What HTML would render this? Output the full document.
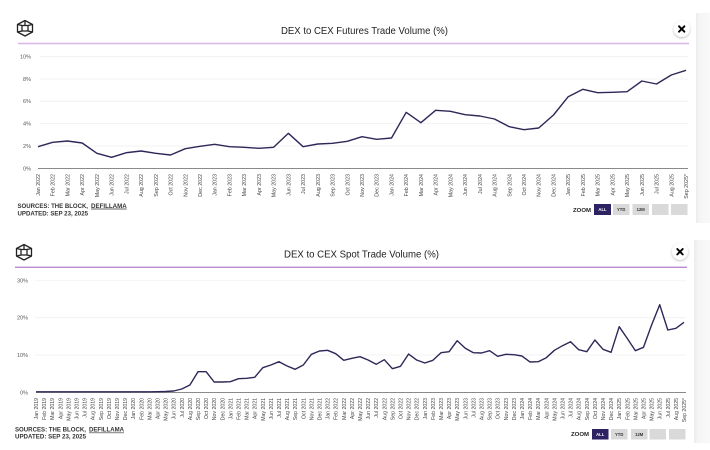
<!DOCTYPE html>
<html><head><meta charset="utf-8"><style>
html,body{margin:0;padding:0;background:#fff;}
svg{display:block;font-family:"Liberation Sans",Arial,sans-serif;}
</style></head><body>
<svg width="710" height="450" viewBox="0 0 710 450" xmlns="http://www.w3.org/2000/svg">
<defs>
<filter id="sh" x="-50%" y="-50%" width="200%" height="200%"><feDropShadow dx="0" dy="1" stdDeviation="1.3" flood-color="#000" flood-opacity="0.28"/></filter>
<linearGradient id="band" x1="0" x2="1" y1="0" y2="0"><stop offset="0" stop-color="#ececec"/><stop offset="0.25" stop-color="#f5f5f5"/><stop offset="1" stop-color="#f9f9f9"/></linearGradient>
</defs>
<rect width="710" height="450" fill="#fff"/>
<!-- right bands -->
<rect x="696" y="13" width="14" height="210" fill="url(#band)"/>
<rect x="694" y="240" width="16" height="203" fill="url(#band)"/>

<!-- ================= TOP CHART ================= -->
<g fill="none" stroke="#222" stroke-width="1.3" stroke-linejoin="round">
<polygon points="25,20.5 32.5,24.5 32.5,32 25,36 17.5,32 17.5,24.5"/>
<rect x="22" y="25.5" width="6" height="5.5"/>
<line x1="17.5" y1="24.5" x2="22" y2="25.5"/><line x1="32.5" y1="24.5" x2="28" y2="25.5"/>
<line x1="17.5" y1="32" x2="22" y2="31"/><line x1="32.5" y1="32" x2="28" y2="31"/>
<line x1="25" y1="20.5" x2="25" y2="25.5"/>
</g>
<text x="281" y="34" font-size="10.5" fill="#222" textLength="167" lengthAdjust="spacingAndGlyphs">DEX to CEX Futures Trade Volume (%)</text>
<line x1="18" y1="43.5" x2="689" y2="43.5" stroke="#d9b6e8" stroke-width="1.4"/>
<circle cx="681.7" cy="29" r="8" fill="#fff" filter="url(#sh)"/>
<g stroke="#000" stroke-width="1.9" stroke-linecap="round"><line x1="679" y1="26.3" x2="684.4" y2="31.7"/><line x1="684.4" y1="26.3" x2="679" y2="31.7"/></g>

<g stroke="#efefef" stroke-width="0.8">
<line x1="40" y1="56.7" x2="688" y2="56.7"/>
<line x1="40" y1="79" x2="688" y2="79"/>
<line x1="40" y1="101.3" x2="688" y2="101.3"/>
<line x1="40" y1="123.6" x2="688" y2="123.6"/>
<line x1="40" y1="146" x2="688" y2="146"/>
</g>
<line x1="38" y1="168.5" x2="688" y2="168.5" stroke="#8a8a8a" stroke-width="1"/>
<g font-size="5.5" fill="#555" text-anchor="end">
<text x="31" y="58.6">10%</text><text x="31" y="80.9">8%</text><text x="31" y="103.2">6%</text>
<text x="31" y="125.5">4%</text><text x="31" y="147.9">2%</text><text x="31" y="170.3">0%</text>
</g>
<polyline fill="none" stroke="#2d2858" stroke-width="1.4" stroke-linejoin="round" points="38,146.7 52.7,142.3 67.5,141 82.2,143 96.9,153.3 111.6,157.3 126.4,152.7 141.1,151 155.8,153.3 170.5,155 185.3,148.7 200,146.3 214.7,144.3 229.5,146.7 244.2,147.3 258.9,148.3 273.6,147.3 288.4,133.3 303.1,146.7 317.8,144 332.5,143.3 347.3,141.3 362,136.7 376.7,139.3 391.5,138 406.2,112.3 420.9,122.7 435.6,110.3 450.4,111.3 465.1,114.7 479.8,116 494.5,119 509.3,126.7 524,129.7 538.7,128 553.5,115 568.2,96.7 582.9,89.3 597.6,92.7 612.4,92.3 627.1,91.7 641.8,81 656.5,84 671.3,75 686,70.3"/>
<g font-size="5.3" fill="#444" text-anchor="end">
<text transform="translate(40,174) rotate(-90)">Jan 2022</text>
<text transform="translate(54.7,174) rotate(-90)">Feb 2022</text>
<text transform="translate(69.5,174) rotate(-90)">Mar 2022</text>
<text transform="translate(84.2,174) rotate(-90)">Apr 2022</text>
<text transform="translate(98.9,174) rotate(-90)">May 2022</text>
<text transform="translate(113.6,174) rotate(-90)">Jun 2022</text>
<text transform="translate(128.4,174) rotate(-90)">Jul 2022</text>
<text transform="translate(143.1,174) rotate(-90)">Aug 2022</text>
<text transform="translate(157.8,174) rotate(-90)">Sep 2022</text>
<text transform="translate(172.5,174) rotate(-90)">Oct 2022</text>
<text transform="translate(187.3,174) rotate(-90)">Nov 2022</text>
<text transform="translate(202,174) rotate(-90)">Dec 2022</text>
<text transform="translate(216.7,174) rotate(-90)">Jan 2023</text>
<text transform="translate(231.5,174) rotate(-90)">Feb 2023</text>
<text transform="translate(246.2,174) rotate(-90)">Mar 2023</text>
<text transform="translate(260.9,174) rotate(-90)">Apr 2023</text>
<text transform="translate(275.6,174) rotate(-90)">May 2023</text>
<text transform="translate(290.4,174) rotate(-90)">Jun 2023</text>
<text transform="translate(305.1,174) rotate(-90)">Jul 2023</text>
<text transform="translate(319.8,174) rotate(-90)">Aug 2023</text>
<text transform="translate(334.5,174) rotate(-90)">Sep 2023</text>
<text transform="translate(349.3,174) rotate(-90)">Oct 2023</text>
<text transform="translate(364,174) rotate(-90)">Nov 2023</text>
<text transform="translate(378.7,174) rotate(-90)">Dec 2023</text>
<text transform="translate(393.5,174) rotate(-90)">Jan 2024</text>
<text transform="translate(408.2,174) rotate(-90)">Feb 2024</text>
<text transform="translate(422.9,174) rotate(-90)">Mar 2024</text>
<text transform="translate(437.6,174) rotate(-90)">Apr 2024</text>
<text transform="translate(452.4,174) rotate(-90)">May 2024</text>
<text transform="translate(467.1,174) rotate(-90)">Jun 2024</text>
<text transform="translate(481.8,174) rotate(-90)">Jul 2024</text>
<text transform="translate(496.5,174) rotate(-90)">Aug 2024</text>
<text transform="translate(511.3,174) rotate(-90)">Sep 2024</text>
<text transform="translate(526,174) rotate(-90)">Oct 2024</text>
<text transform="translate(540.7,174) rotate(-90)">Nov 2024</text>
<text transform="translate(555.5,174) rotate(-90)">Dec 2024</text>
<text transform="translate(570.2,174) rotate(-90)">Jan 2025</text>
<text transform="translate(584.9,174) rotate(-90)">Feb 2025</text>
<text transform="translate(599.6,174) rotate(-90)">Mar 2025</text>
<text transform="translate(614.4,174) rotate(-90)">Apr 2025</text>
<text transform="translate(629.1,174) rotate(-90)">May 2025</text>
<text transform="translate(643.8,174) rotate(-90)">Jun 2025</text>
<text transform="translate(658.5,174) rotate(-90)">Jul 2025</text>
<text transform="translate(673.3,174) rotate(-90)">Aug 2025</text>
<text transform="translate(688,174) rotate(-90)">Sep 2025*</text>
</g>
<g font-size="6.8" font-weight="bold" fill="#333">
<text x="17.5" y="207.8" textLength="70.5" lengthAdjust="spacingAndGlyphs">SOURCES: THE BLOCK,</text>
<text x="91" y="207.8" textLength="35.7" lengthAdjust="spacingAndGlyphs">DEFILLAMA</text>
<text x="17.5" y="215.3" textLength="70.5" lengthAdjust="spacingAndGlyphs">UPDATED: SEP 23, 2025</text>
</g>
<line x1="91" y1="209" x2="126.7" y2="209" stroke="#333" stroke-width="0.7"/>
<text x="573" y="212" font-size="5.8" font-weight="bold" fill="#222" textLength="18" lengthAdjust="spacingAndGlyphs">ZOOM</text>
<rect x="594" y="204" width="17" height="11" fill="#2d2262"/>
<rect x="613" y="204" width="16.5" height="11" fill="#d9d9d9"/>
<rect x="632.5" y="204" width="16.5" height="11" fill="#d9d9d9"/>
<rect x="652" y="204" width="16.5" height="11" fill="#d9d9d9"/>
<rect x="671" y="204" width="16.5" height="11" fill="#d9d9d9"/>
<g font-size="4.2" font-weight="bold" text-anchor="middle">
<text x="602.5" y="211" fill="#fff">ALL</text>
<text x="621.2" y="211" fill="#333">YTD</text>
<text x="640.7" y="211" fill="#333">12M</text>
</g>

<!-- ================= BOTTOM CHART ================= -->
<g fill="none" stroke="#222" stroke-width="1.3" stroke-linejoin="round">
<polygon points="24,244.5 31.5,248.5 31.5,256 24,260 16.5,256 16.5,248.5"/>
<rect x="21" y="249.5" width="6" height="5.5"/>
<line x1="16.5" y1="248.5" x2="21" y2="249.5"/><line x1="31.5" y1="248.5" x2="27" y2="249.5"/>
<line x1="16.5" y1="256" x2="21" y2="255"/><line x1="31.5" y1="256" x2="27" y2="255"/>
<line x1="24" y1="244.5" x2="24" y2="249.5"/>
</g>
<text x="284" y="257.5" font-size="10.5" fill="#222" textLength="155" lengthAdjust="spacingAndGlyphs">DEX to CEX Spot Trade Volume (%)</text>
<line x1="15" y1="267.3" x2="687" y2="267.3" stroke="#b98ad2" stroke-width="1.4"/>
<circle cx="680" cy="251.7" r="8" fill="#fff" filter="url(#sh)"/>
<g stroke="#000" stroke-width="1.9" stroke-linecap="round"><line x1="677.3" y1="249" x2="682.7" y2="254.4"/><line x1="682.7" y1="249" x2="677.3" y2="254.4"/></g>

<g stroke="#efefef" stroke-width="0.8">
<line x1="35" y1="280.7" x2="686" y2="280.7" stroke="#f4f4f4"/>
<line x1="35" y1="317.7" x2="686" y2="317.7"/>
<line x1="35" y1="355" x2="686" y2="355"/>
</g>
<line x1="36" y1="392.5" x2="686" y2="392.5" stroke="#8a8a8a" stroke-width="1"/>
<g font-size="5.5" fill="#555" text-anchor="end">
<text x="28" y="282.6">30%</text><text x="28" y="319.6">20%</text><text x="28" y="356.9">10%</text><text x="28" y="394.3">0%</text>
</g>
<polyline fill="none" stroke="#2d2858" stroke-width="1.4" stroke-linejoin="round" points="36,391.8 44.1,391.8 52.2,391.8 60.3,391.8 68.4,391.8 76.5,391.8 84.6,391.8 92.7,391.8 100.8,391.8 108.9,391.8 117,391.8 125.1,391.8 133.2,391.8 141.3,391.8 149.4,391.8 157.5,391.7 165.6,391.5 173.7,391 181.8,389 189.9,385 198,371.7 206.1,371.7 214.2,382 222.3,382 230.4,381.7 238.5,378.7 246.6,378.3 254.7,377.3 262.8,367.7 270.9,365 279,361.7 287.1,366 295.2,369.3 303.3,365 311.4,354.3 319.5,351 327.6,350.3 335.7,353.7 343.8,360.3 351.9,358.3 360,356.7 368.1,360 376.2,364.3 384.3,359.7 392.4,368.7 400.5,366.3 408.6,354 416.7,360 424.8,363 432.9,360.3 441,352.7 449.1,351.7 457.2,340.7 465.3,348.3 473.4,352.7 481.5,353 489.6,350.7 497.7,356.3 505.8,354.3 513.9,354.7 522,356 530.1,362 538.2,361.7 546.3,357.7 554.4,350.3 562.5,345.7 570.6,341.7 578.7,349.7 586.8,351.7 594.9,340 603,349.3 611.1,352.3 619.2,326.7 627.3,338.5 635.4,350.7 643.5,347.3 651.6,325 659.7,304.7 667.8,330 675.9,328.3 684,322.3"/>
<g font-size="5.2" fill="#444" text-anchor="end">
<text transform="translate(38,398) rotate(-90)">Jan 2019</text>
<text transform="translate(46.1,398) rotate(-90)">Feb 2019</text>
<text transform="translate(54.2,398) rotate(-90)">Mar 2019</text>
<text transform="translate(62.3,398) rotate(-90)">Apr 2019</text>
<text transform="translate(70.4,398) rotate(-90)">May 2019</text>
<text transform="translate(78.5,398) rotate(-90)">Jun 2019</text>
<text transform="translate(86.6,398) rotate(-90)">Jul 2019</text>
<text transform="translate(94.7,398) rotate(-90)">Aug 2019</text>
<text transform="translate(102.8,398) rotate(-90)">Sep 2019</text>
<text transform="translate(110.9,398) rotate(-90)">Oct 2019</text>
<text transform="translate(119,398) rotate(-90)">Nov 2019</text>
<text transform="translate(127.1,398) rotate(-90)">Dec 2019</text>
<text transform="translate(135.2,398) rotate(-90)">Jan 2020</text>
<text transform="translate(143.3,398) rotate(-90)">Feb 2020</text>
<text transform="translate(151.4,398) rotate(-90)">Mar 2020</text>
<text transform="translate(159.5,398) rotate(-90)">Apr 2020</text>
<text transform="translate(167.6,398) rotate(-90)">May 2020</text>
<text transform="translate(175.7,398) rotate(-90)">Jun 2020</text>
<text transform="translate(183.8,398) rotate(-90)">Jul 2020</text>
<text transform="translate(191.9,398) rotate(-90)">Aug 2020</text>
<text transform="translate(200,398) rotate(-90)">Sep 2020</text>
<text transform="translate(208.1,398) rotate(-90)">Oct 2020</text>
<text transform="translate(216.2,398) rotate(-90)">Nov 2020</text>
<text transform="translate(224.3,398) rotate(-90)">Dec 2020</text>
<text transform="translate(232.4,398) rotate(-90)">Jan 2021</text>
<text transform="translate(240.5,398) rotate(-90)">Feb 2021</text>
<text transform="translate(248.6,398) rotate(-90)">Mar 2021</text>
<text transform="translate(256.7,398) rotate(-90)">Apr 2021</text>
<text transform="translate(264.8,398) rotate(-90)">May 2021</text>
<text transform="translate(272.9,398) rotate(-90)">Jun 2021</text>
<text transform="translate(281,398) rotate(-90)">Jul 2021</text>
<text transform="translate(289.1,398) rotate(-90)">Aug 2021</text>
<text transform="translate(297.2,398) rotate(-90)">Sep 2021</text>
<text transform="translate(305.3,398) rotate(-90)">Oct 2021</text>
<text transform="translate(313.4,398) rotate(-90)">Nov 2021</text>
<text transform="translate(321.5,398) rotate(-90)">Dec 2021</text>
<text transform="translate(329.6,398) rotate(-90)">Jan 2022</text>
<text transform="translate(337.7,398) rotate(-90)">Feb 2022</text>
<text transform="translate(345.8,398) rotate(-90)">Mar 2022</text>
<text transform="translate(353.9,398) rotate(-90)">Apr 2022</text>
<text transform="translate(362,398) rotate(-90)">May 2022</text>
<text transform="translate(370.1,398) rotate(-90)">Jun 2022</text>
<text transform="translate(378.2,398) rotate(-90)">Jul 2022</text>
<text transform="translate(386.3,398) rotate(-90)">Aug 2022</text>
<text transform="translate(394.4,398) rotate(-90)">Sep 2022</text>
<text transform="translate(402.5,398) rotate(-90)">Oct 2022</text>
<text transform="translate(410.6,398) rotate(-90)">Nov 2022</text>
<text transform="translate(418.7,398) rotate(-90)">Dec 2022</text>
<text transform="translate(426.8,398) rotate(-90)">Jan 2023</text>
<text transform="translate(434.9,398) rotate(-90)">Feb 2023</text>
<text transform="translate(443,398) rotate(-90)">Mar 2023</text>
<text transform="translate(451.1,398) rotate(-90)">Apr 2023</text>
<text transform="translate(459.2,398) rotate(-90)">May 2023</text>
<text transform="translate(467.3,398) rotate(-90)">Jun 2023</text>
<text transform="translate(475.4,398) rotate(-90)">Jul 2023</text>
<text transform="translate(483.5,398) rotate(-90)">Aug 2023</text>
<text transform="translate(491.6,398) rotate(-90)">Sep 2023</text>
<text transform="translate(499.7,398) rotate(-90)">Oct 2023</text>
<text transform="translate(507.8,398) rotate(-90)">Nov 2023</text>
<text transform="translate(515.9,398) rotate(-90)">Dec 2023</text>
<text transform="translate(524,398) rotate(-90)">Jan 2024</text>
<text transform="translate(532.1,398) rotate(-90)">Feb 2024</text>
<text transform="translate(540.2,398) rotate(-90)">Mar 2024</text>
<text transform="translate(548.3,398) rotate(-90)">Apr 2024</text>
<text transform="translate(556.4,398) rotate(-90)">May 2024</text>
<text transform="translate(564.5,398) rotate(-90)">Jun 2024</text>
<text transform="translate(572.6,398) rotate(-90)">Jul 2024</text>
<text transform="translate(580.7,398) rotate(-90)">Aug 2024</text>
<text transform="translate(588.8,398) rotate(-90)">Sep 2024</text>
<text transform="translate(596.9,398) rotate(-90)">Oct 2024</text>
<text transform="translate(605,398) rotate(-90)">Nov 2024</text>
<text transform="translate(613.1,398) rotate(-90)">Dec 2024</text>
<text transform="translate(621.2,398) rotate(-90)">Jan 2025</text>
<text transform="translate(629.3,398) rotate(-90)">Feb 2025</text>
<text transform="translate(637.4,398) rotate(-90)">Mar 2025</text>
<text transform="translate(645.5,398) rotate(-90)">Apr 2025</text>
<text transform="translate(653.6,398) rotate(-90)">May 2025</text>
<text transform="translate(661.7,398) rotate(-90)">Jun 2025</text>
<text transform="translate(669.8,398) rotate(-90)">Jul 2025</text>
<text transform="translate(677.9,398) rotate(-90)">Aug 2025</text>
<text transform="translate(686,398) rotate(-90)">Sep 2025*</text>
</g>
<g font-size="6.8" font-weight="bold" fill="#333">
<text x="15" y="431.6" textLength="71" lengthAdjust="spacingAndGlyphs">SOURCES: THE BLOCK,</text>
<text x="89" y="431.6" textLength="35" lengthAdjust="spacingAndGlyphs">DEFILLAMA</text>
<text x="15" y="438.6" textLength="71" lengthAdjust="spacingAndGlyphs">UPDATED: SEP 23, 2025</text>
</g>
<line x1="89" y1="432.8" x2="124" y2="432.8" stroke="#333" stroke-width="0.7"/>
<text x="571" y="436" font-size="5.8" font-weight="bold" fill="#222" textLength="18" lengthAdjust="spacingAndGlyphs">ZOOM</text>
<rect x="592" y="429" width="16.5" height="10.5" fill="#2d2262"/>
<rect x="611" y="429" width="16.5" height="10.5" fill="#d9d9d9"/>
<rect x="631" y="429" width="16.5" height="10.5" fill="#d9d9d9"/>
<rect x="649.5" y="429" width="16.5" height="10.5" fill="#d9d9d9"/>
<rect x="669" y="429" width="16.5" height="10.5" fill="#d9d9d9"/>
<g font-size="4.2" font-weight="bold" text-anchor="middle">
<text x="600.2" y="435.8" fill="#fff">ALL</text>
<text x="619.2" y="435.8" fill="#333">YTD</text>
<text x="639.2" y="435.8" fill="#333">12M</text>
</g>
</svg>
</body></html>
